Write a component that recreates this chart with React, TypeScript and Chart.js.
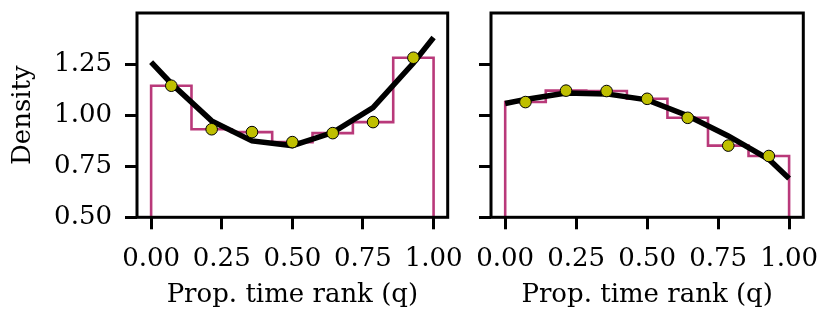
import React, { useEffect, useRef } from "react";
import { Chart, registerables } from "chart.js";

Chart.register(...registerables);

// ---- data ----
const binEdges = [0, 0.1429, 0.2857, 0.4286, 0.5714, 0.7143, 0.8571, 1.0];
const binCenters = [0.0714, 0.2143, 0.3571, 0.5, 0.6429, 0.7857, 0.9286];
const curveX = [0, 0.0714, 0.2143, 0.3571, 0.5, 0.6429, 0.7857, 0.9286, 1.0];

const leftHist = [1.144, 0.931, 0.917, 0.868, 0.912, 0.966, 1.281];
const leftCurve = [1.26, 1.155, 0.972, 0.874, 0.851, 0.915, 1.037, 1.255, 1.38];

const rightHist = [1.064, 1.12, 1.118, 1.08, 0.987, 0.851, 0.8];
const rightCurve = [1.057, 1.077, 1.108, 1.104, 1.075, 0.997, 0.898, 0.784, 0.69];

const xTicks = [0, 0.25, 0.5, 0.75, 1.0];
const yTicks = [0.5, 0.75, 1.0, 1.25];

const xLabel = "Prop. time rank (q)";
const yLabel = "Density";

const FONT = "'DejaVu Serif', serif";
const FS = 26;
const HIST_COLOR = "#b9397a";
const DOT_COLOR = "#bfbf00";

function stepPoints(edges: number[], heights: number[]) {
  const pts: { x: number; y: number }[] = [{ x: edges[0], y: 0 }];
  heights.forEach((h, i) => {
    pts.push({ x: edges[i], y: h });
    pts.push({ x: edges[i + 1], y: h });
  });
  pts.push({ x: edges[edges.length - 1], y: 0 });
  return pts;
}

const framePlugin = {
  id: "frame",
  afterDatasetsDraw(chart: any) {
    const { ctx, chartArea } = chart;
    const { left, top, right, bottom } = chartArea;
    ctx.save();
    ctx.strokeStyle = "#000";
    ctx.lineWidth = 3;
    ctx.strokeRect(left, top, right - left, bottom - top);
    ctx.restore();
  },
};

type PanelProps = {
  hist: number[];
  curve: number[];
  showY: boolean;
  left: number;
  width: number;
  yWidth: number;
  padRight: number;
};

function Panel({ hist, curve, showY, left, width, yWidth, padRight }: PanelProps) {
  const ref = useRef<HTMLCanvasElement | null>(null);
  useEffect(() => {
    if (!ref.current) return;
    const chart = new Chart(ref.current, {
      type: "line",
      data: {
        datasets: [
          {
            type: "line",
            data: stepPoints(binEdges, hist),
            borderColor: HIST_COLOR,
            borderWidth: 2.6,
            pointRadius: 0,
            fill: false,
            tension: 0,
            order: 3,
          } as any,
          {
            type: "line",
            data: curveX.map((x, i) => ({ x, y: curve[i] })),
            borderColor: "#000",
            borderWidth: 5.5,
            pointRadius: 0,
            fill: false,
            tension: 0,
            order: 2,
          } as any,
          {
            type: "scatter",
            data: binCenters.map((x, i) => ({ x, y: hist[i] })),
            backgroundColor: DOT_COLOR,
            borderColor: "#000",
            borderWidth: 1,
            pointRadius: 5.8,
            order: 1,
          } as any,
        ],
      },
      options: {
        animation: false,
        responsive: false,
        devicePixelRatio: 1,
        layout: { padding: { left: 0, right: padRight, top: 13, bottom: 0 } },
        plugins: { legend: { display: false }, tooltip: { enabled: false } },
        scales: {
          x: {
            type: "linear",
            min: -0.05,
            max: 1.05,
            afterBuildTicks: (s: any) => {
              s.ticks = xTicks.map((v) => ({ value: v }));
            },
            afterFit: (s: any) => {
              s.height = 104.7;
              s.paddingLeft = 0;
              s.paddingRight = 0;
            },
            ticks: {
              callback: (v: any) => Number(v).toFixed(2),
              font: { family: FONT, size: FS },
              color: "#000",
              padding: 14,
              maxRotation: 0,
              autoSkip: false,
            },
            grid: {
              drawOnChartArea: false,
              drawTicks: true,
              tickLength: 12,
              tickWidth: 3,
              tickColor: "#000",
              color: "#000",
              lineWidth: 3,
            },
            border: { display: false },
            title: {
              display: true,
              text: xLabel,
              color: "#000",
              font: { family: FONT, size: FS },
              padding: { top: 0, bottom: 11 },
            },
          },
          y: {
            type: "linear",
            min: 0.5,
            max: 1.5,
            afterBuildTicks: (s: any) => {
              s.ticks = yTicks.map((v) => ({ value: v }));
            },
            afterFit: (s: any) => {
              s.width = yWidth;
              s.paddingTop = 0;
              s.paddingBottom = 0;
            },
            ticks: {
              display: showY,
              callback: (v: any) => Number(v).toFixed(2),
              font: { family: FONT, size: FS },
              color: "#000",
              padding: 13,
            },
            grid: {
              drawOnChartArea: false,
              drawTicks: true,
              tickLength: 12,
              tickWidth: 3,
              tickColor: "#000",
              color: "#000",
              lineWidth: 3,
            },
            border: { display: false },
            title: {
              display: showY,
              text: yLabel,
              color: "#000",
              font: { family: FONT, size: FS },
              padding: { top: 8, bottom: 0 },
            },
          },
        },
      } as any,
      plugins: [framePlugin],
    });
    return () => chart.destroy();
  }, []);
  return (
    <canvas
      ref={ref}
      width={width}
      height={322}
      style={{ position: "absolute", left, top: 0, width, height: 322 }}
    />
  );
}

export default function App() {
  return (
    <div
      style={{
        position: "absolute",
        left: 0,
        top: 0,
        width: 831,
        height: 322,
        background: "#fff",
        overflow: "hidden",
      }}
    >
      <Panel hist={leftHist} curve={leftCurve} showY={true} left={0} width={470} yWidth={137} padRight={22.3} />
      <Panel hist={rightHist} curve={rightCurve} showY={false} left={470} width={361} yWidth={21} padRight={27.7} />
    </div>
  );
}
